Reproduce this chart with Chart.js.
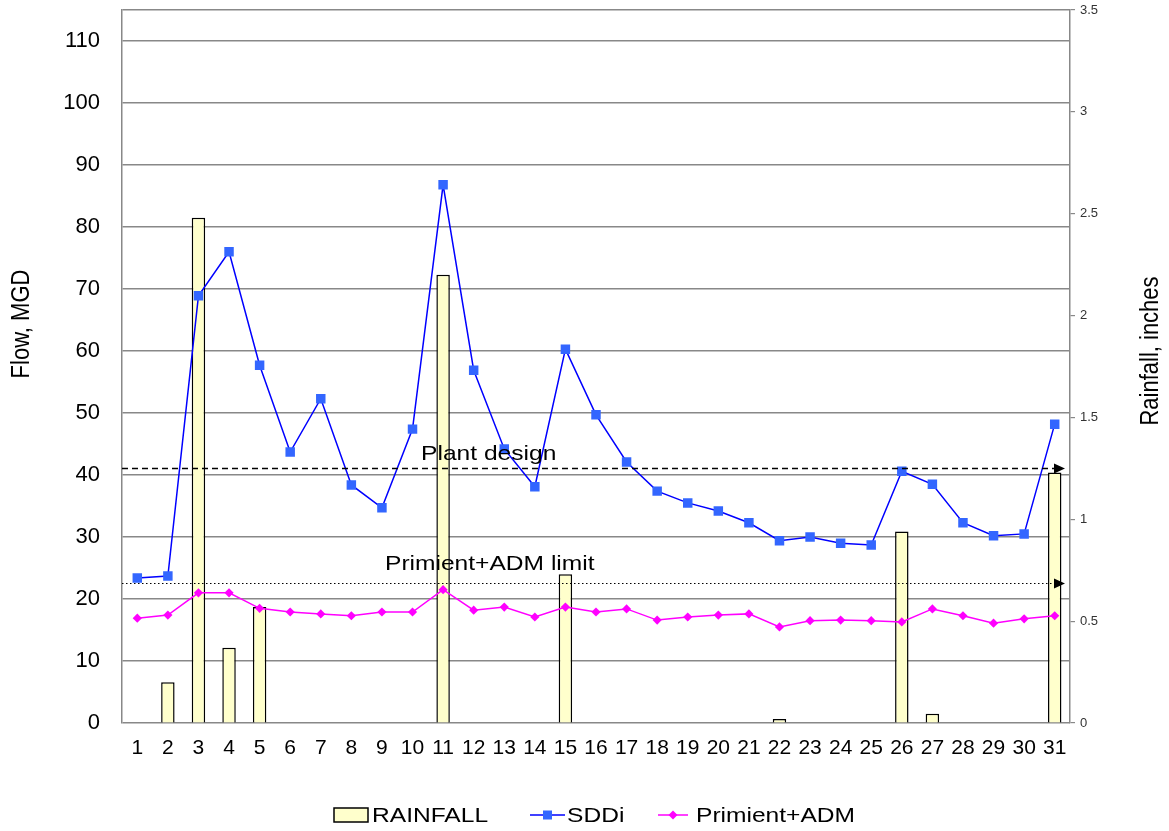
<!DOCTYPE html>
<html>
<head>
<meta charset="utf-8">
<script src="https://cdn.jsdelivr.net/npm/chart.js@4.4.1/dist/chart.umd.min.js"></script>
<style>
  html, body { margin: 0; padding: 0; background: #fff; }
  #wrap { width: 1169px; height: 831px; }
</style>
</head>
<body>
<div id="wrap"><canvas id="chart"></canvas></div>
<script>
// days of the month
const days = ['1','2','3','4','5','6','7','8','9','10','11','12','13','14','15','16',
  '17','18','19','20','21','22','23','24','25','26','27','28','29','30','31'];

// rainfall, inches (right axis)
const rainfall = [0, 0.2, 2.48, 0.37, 0.57, 0, 0, 0, 0, 0, 2.2, 0, 0, 0, 0.73, 0,
  0, 0, 0, 0, 0, 0.02, 0, 0, 0, 0.94, 0.045, 0, 0, 0, 1.23];

// flow, MGD
const sddi = [23.4, 23.7, 68.9, 76.0, 57.7, 43.7, 52.3, 38.4, 34.7, 47.4, 86.8, 56.9,
  44.2, 38.1, 60.3, 49.7, 42.1, 37.4, 35.5, 34.2, 32.3, 29.4, 30.0, 29.0, 28.7, 40.6,
  38.5, 32.3, 30.2, 30.5, 48.2];
const primient = [16.9, 17.4, 21.0, 21.0, 18.5, 17.9, 17.6, 17.3, 17.9, 17.9, 21.5,
  18.2, 18.7, 17.1, 18.7, 17.9, 18.4, 16.6, 17.1, 17.4, 17.6, 15.5, 16.5, 16.6, 16.5,
  16.3, 18.4, 17.3, 16.1, 16.8, 17.3];

// reference limits, MGD
const plantDesign = 41.1;
const primientLimit = 22.6;

const FONT = "'Liberation Sans', Arial, sans-serif";
const STRETCH = 1.17; // the original text is a bit wide

function wideText(ctx, text, x, y) {
  ctx.save();
  ctx.translate(x, y);
  ctx.scale(STRETCH, 1);
  ctx.fillText(text, 0, 0);
  ctx.restore();
}

// legend symbols
function drawIcon(g, kind, x, y) {
  if (kind === 'RAINFALL') {
    g.fillStyle = '#FFFFCC';
    g.fillRect(x, y - 7, 34, 14);
    g.strokeStyle = '#000';
    g.lineWidth = 1.5;
    g.strokeRect(x, y - 7, 34, 14);
  } else if (kind === 'SDDi') {
    g.strokeStyle = '#0000FF';
    g.lineWidth = 1.5;
    g.beginPath(); g.moveTo(x, y); g.lineTo(x + 35, y); g.stroke();
    g.fillStyle = '#3366FF';
    g.fillRect(x + 13, y - 4.5, 9, 9);
  } else {
    g.strokeStyle = '#FF00FF';
    g.lineWidth = 1.5;
    g.beginPath(); g.moveTo(x, y); g.lineTo(x + 30, y); g.stroke();
    g.fillStyle = '#FF00FF';
    g.beginPath(); g.moveTo(x + 15, y - 4.5); g.lineTo(x + 19.5, y); g.lineTo(x + 15, y + 4.5);
    g.lineTo(x + 10.5, y); g.closePath(); g.fill();
  }
}

const legendItems = [
  { name: 'RAINFALL', icon: 334, text: 372 },
  { name: 'SDDi', icon: 530, text: 567 },
  { name: 'Primient+ADM', icon: 658, text: 696 }
];

const customLegend = {
  id: 'customLegend',
  afterDraw(chart) {
    const ctx = chart.ctx;
    const y = chart.chartArea.bottom + 92;
    ctx.save();
    legendItems.forEach(it => {
      drawIcon(ctx, it.name, it.icon, y);
      ctx.fillStyle = '#000';
      ctx.font = '21px ' + FONT;
      ctx.textBaseline = 'middle';
      wideText(ctx, it.name, it.text, y + 1);
    });
    ctx.restore();
  }
};

// axis titles, placed like the original
const axisTitles = {
  id: 'axisTitles',
  afterDraw(chart) {
    const ctx = chart.ctx;
    const titles = [
      { text: 'Flow, MGD', x: 22, y: 324 },
      { text: 'Rainfall, inches', x: 1151, y: 351 }
    ];
    ctx.save();
    ctx.fillStyle = '#000';
    ctx.font = '22px ' + FONT;
    ctx.textAlign = 'center';
    ctx.textBaseline = 'middle';
    titles.forEach(t => {
      ctx.save();
      ctx.translate(t.x, t.y);
      ctx.rotate(-Math.PI / 2);
      ctx.scale(1, STRETCH);
      ctx.fillText(t.text, 0, 0);
      ctx.restore();
    });
    ctx.restore();
  }
};

// reference lines with arrow heads and their captions
const limitLines = {
  id: 'limitLines',
  afterDatasetsDraw(chart) {
    const { ctx, chartArea, scales } = chart;
    const y = scales.y, x = scales.x;
    const endX = chartArea.right - 8;
    const items = [
      { v: plantDesign, dash: [6, 4], w: 1.5, text: 'Plant design', at: 9.28, off: 9 },
      { v: primientLimit, dash: [1.5, 2.5], w: 1.2, text: 'Primient+ADM limit', at: 8.1, off: 14 }
    ];
    ctx.save();
    items.forEach(it => {
      const py = Math.round(y.getPixelForValue(it.v)) + 0.5;
      ctx.strokeStyle = '#000';
      ctx.lineWidth = it.w;
      ctx.setLineDash(it.dash);
      ctx.beginPath();
      ctx.moveTo(chartArea.left, py);
      ctx.lineTo(endX - 6, py);
      ctx.stroke();
      ctx.setLineDash([]);
      ctx.fillStyle = '#000';
      ctx.beginPath();
      ctx.moveTo(endX + 3, py);
      ctx.lineTo(endX - 8, py - 5);
      ctx.lineTo(endX - 8, py + 5);
      ctx.closePath();
      ctx.fill();
      ctx.font = '21px ' + FONT;
      ctx.textBaseline = 'alphabetic';
      wideText(ctx, it.text, x.getPixelForValue(it.at), py - it.off);
    });
    ctx.restore();
  }
};

new Chart(document.getElementById('chart'), {
  data: {
    labels: days,
    datasets: [
      {
        type: 'line', label: 'SDDi', data: sddi, yAxisID: 'y',
        borderColor: '#0000FF', borderWidth: 1.5, backgroundColor: '#3366FF',
        pointStyle: 'rect', pointRadius: 6.7, pointBorderWidth: 0,
        pointBackgroundColor: '#3366FF', tension: 0, order: 1
      },
      {
        type: 'line', label: 'Primient+ADM', data: primient, yAxisID: 'y',
        borderColor: '#FF00FF', borderWidth: 1.5, backgroundColor: '#FF00FF',
        pointStyle: 'rectRot', pointRadius: 4.6, pointBorderWidth: 0,
        pointBackgroundColor: '#FF00FF', tension: 0, order: 2
      },
      {
        type: 'bar', label: 'RAINFALL', data: rainfall, yAxisID: 'y1',
        backgroundColor: '#FFFFCC', borderColor: '#000', borderWidth: 1.5,
        barPercentage: 0.44, categoryPercentage: 1.0, order: 3
      }
    ]
  },
  options: {
    responsive: true,
    maintainAspectRatio: false,
    animation: false,
    layout: { padding: { top: 10, left: 0, right: 0, bottom: 58 } },
    plugins: {
      tooltip: { enabled: false },
      legend: { display: false }
    },
    scales: {
      x: {
        grid: { display: false, drawTicks: false },
        border: { display: false },
        ticks: { font: { family: FONT, size: 21 }, color: '#000', padding: 13,
          autoSkip: false, maxRotation: 0 },
        afterFit(s) { s.height = 50; s.paddingLeft = 0; s.paddingRight = 0; }
      },
      y: {
        position: 'left', min: 0, max: 115,
        ticks: { stepSize: 10, font: { family: FONT, size: 22 }, color: '#000', padding: 22,
          callback: v => (v % 10 === 0 ? v : '') },
        grid: { color: '#888', lineWidth: 1.5, drawTicks: false },
        border: { color: '#888', width: 1.5 },
        afterFit(s) { s.width = 122; s.paddingTop = 0; s.paddingBottom = 0; }
      },
      y1: {
        position: 'right', min: 0, max: 3.5,
        ticks: { stepSize: 0.5, font: { family: FONT, size: 13 }, color: '#333', padding: 5,
          callback: v => String(v) },
        grid: { drawOnChartArea: false, color: '#888', tickLength: 5, lineWidth: 1.2 },
        border: { color: '#888', width: 1.5 },
        afterFit(s) { s.width = 99; s.paddingTop = 0; s.paddingBottom = 0; }
      }
    }
  },
  plugins: [limitLines, axisTitles, customLegend]
});
</script>
</body>
</html>
